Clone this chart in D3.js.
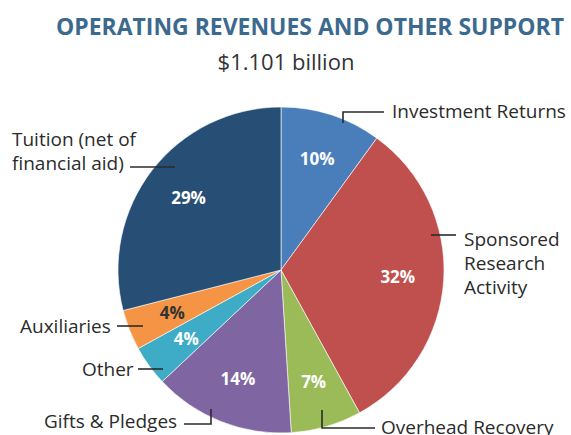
<!DOCTYPE html>
<html>
<head>
<meta charset="utf-8">
<script src="https://cdn.jsdelivr.net/npm/d3@7"></script>
<style>
  body { margin: 0; background: #fff; }
  svg { display: block; font-family: "Open Sans", sans-serif; }
</style>
</head>
<body>
<svg id="chart" width="571" height="435"></svg>
<script>
// data
var categories = ["Investment Returns", "Sponsored Research Activity", "Overhead Recovery",
                  "Gifts & Pledges", "Other", "Auxiliaries", "Tuition (net of financial aid)"];
var shares = [10, 32, 7, 14, 4, 4, 29];
var colors = ["#4a7ebb", "#c0504d", "#9bbb59", "#7f66a3", "#3eacc7", "#f59444", "#274e75"];
var pctText = ["#fff", "#fff", "#fff", "#fff", "#fff", "#333", "#fff"];

var title = "OPERATING REVENUES AND OTHER SUPPORT";
var subtitle = "$1.101 billion";

// label layout: text lines, anchor position, leader path
var labelLines = [
  ["Investment Returns"],
  ["Sponsored", "Research", "Activity"],
  ["Overhead Recovery"],
  ["Gifts & Pledges"],
  ["Other"],
  ["Auxiliaries"],
  ["Tuition (net of", "financial aid)"]
];
var labelPos = [[392, 118], [464, 246], [381, 434], [44, 428], [82, 376], [20, 333], [12, 146]];
var leaders = [
  [[343, 123], [343, 112], [384, 112]],
  [[431, 235], [456, 235]],
  [[322, 410], [322, 428], [375, 428]],
  [[211, 409], [211, 424], [184, 424]],
  [[163, 369], [138, 369]],
  [[143, 326], [117, 326]],
  [[175, 167], [130, 167]]
];

var svg = d3.select("#chart");
var cx = 281, cy = 270, r = 163;

svg.append("text")
    .attr("x", 310).attr("y", 35)
    .attr("text-anchor", "middle")
    .attr("font-size", 23).attr("font-weight", "bold")
    .attr("fill", "#3c6a8f")
    .attr("textLength", 508).attr("lengthAdjust", "spacingAndGlyphs")
    .text(title);

svg.append("text")
    .attr("x", 286).attr("y", 70)
    .attr("text-anchor", "middle")
    .attr("font-size", 22)
    .attr("fill", "#333")
    .text(subtitle);

var data = categories.map(function(c, i) { return {name: c, value: shares[i], i: i}; });

var pie = d3.pie().sort(null).value(function(d) { return d.value; });
var arc = d3.arc().innerRadius(0).outerRadius(r);
var labelArc = d3.arc().innerRadius(117).outerRadius(117);

var g = svg.append("g").attr("transform", "translate(" + cx + "," + cy + ")");
var arcs = pie(data);

g.selectAll("path.slice")
    .data(arcs)
  .enter().append("path")
    .attr("class", "slice")
    .attr("d", arc)
    .attr("fill", function(d) { return colors[d.data.i]; })
    .attr("stroke", "#fff")
    .attr("stroke-width", 0.6);

g.selectAll("text.pct")
    .data(arcs)
  .enter().append("text")
    .attr("class", "pct")
    .attr("transform", function(d) { return "translate(" + labelArc.centroid(d) + ")"; })
    .attr("dy", "0.35em")
    .attr("text-anchor", "middle")
    .attr("font-size", 17).attr("font-weight", "bold")
    .attr("fill", function(d) { return pctText[d.data.i]; })
    .text(function(d) { return d.data.value + "%"; });

// leader lines
svg.selectAll("path.leader")
    .data(leaders)
  .enter().append("path")
    .attr("class", "leader")
    .attr("d", d3.line())
    .attr("fill", "none")
    .attr("stroke", "#2b2b2b")
    .attr("stroke-width", 1.6);

// category labels
labelLines.forEach(function(lines, i) {
  var t = svg.append("text")
      .attr("x", labelPos[i][0]).attr("y", labelPos[i][1])
      .attr("font-size", 19)
      .attr("fill", "#2b2b2b");
  lines.forEach(function(l, k) {
    t.append("tspan").attr("x", labelPos[i][0]).attr("dy", k === 0 ? 0 : 24).text(l);
  });
});
</script>
</body>
</html>
